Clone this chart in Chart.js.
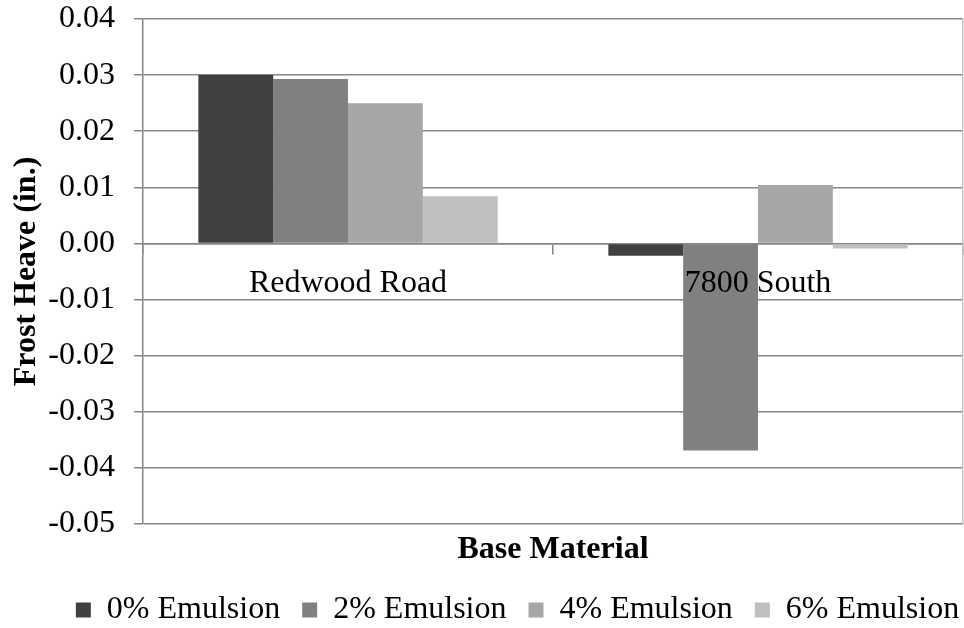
<!DOCTYPE html>
<html>
<head>
<meta charset="utf-8">
<script src="https://cdn.jsdelivr.net/npm/chart.js@4"></script>
<style>
  body { margin: 0; background: #fff; }
</style>
</head>
<body>
<canvas id="frostChart" width="964" height="628"></canvas>
<script>
// dados
const categories = ['Redwood Road', '7800 South'];
const seriesNames = ['0% Emulsion', '2% Emulsion', '4% Emulsion', '6% Emulsion'];
const emulsion0 = [0.0300, -0.0022];
const emulsion2 = [0.0293, -0.0369];
const emulsion4 = [0.0250, 0.0104];
const emulsion6 = [0.0084, -0.0009];
const yMin = -0.05;
const yMax = 0.04;
const yStep = 0.01;

const barColors = ['#404040', '#808080', '#a6a6a6', '#bfbfbf'];
const gridColor = '#868686';

Chart.defaults.font.family = "'Liberation Serif', 'Times New Roman', serif";
Chart.defaults.color = '#000';

const allSeries = [emulsion0, emulsion2, emulsion4, emulsion6];

const leftPad = 6;
const plotLeft = 143;
const legendShift = 33; // a legenda original fica um pouco à direita

// empurra a caixa da legenda para a direita antes de desenhar
const shiftLegend = {
  id: 'shiftLegend',
  afterLayout(chart) {
    chart.legend.left += legendShift;
    chart.legend.right += legendShift;
  }
};

const ctx = document.getElementById('frostChart').getContext('2d');
const frostChart = new Chart(ctx, {
  type: 'bar',
  data: {
    labels: categories,
    datasets: allSeries.map((vals, i) => ({
      label: seriesNames[i],
      data: vals,
      backgroundColor: barColors[i],
      borderWidth: 0,
      categoryPercentage: 0.73,
      barPercentage: 1.0,
      xAxisID: 'x',
      yAxisID: 'y'
    }))
  },
  options: {
    responsive: false,
    animation: false,
    layout: {
      padding: { left: leftPad, right: 1, top: 1, bottom: -8 }
    },
    plugins: {
      legend: {
        position: 'bottom',
        labels: {
          boxWidth: 15,
          boxHeight: 15,
          padding: 22,
          font: { size: 32 }
        }
      },
      tooltip: { enabled: false }
    },
    scales: {
      x: {
        type: 'category',
        position: { y: 0 }, // eixo x cruzando no zero
        grid: {
          display: true,
          drawOnChartArea: false,
          drawTicks: true,
          tickLength: 10,
          color: gridColor,
          lineWidth: 1.5
        },
        border: { display: true, color: gridColor, width: 1.5 },
        ticks: {
          z: 1, // rótulos por cima das barras
          font: { size: 32 },
          padding: 11,
          maxRotation: 0,
          autoSkip: false
        }
      },
      xTitle: {
        type: 'category',
        position: 'bottom',
        labels: categories,
        grid: { display: false, drawTicks: false },
        border: { display: false },
        ticks: { display: false },
        title: {
          display: true,
          text: 'Base Material',
          font: { size: 32, weight: 'bold' },
          padding: { top: 7, bottom: 2.6 }
        }
      },
      y: {
        min: yMin,
        max: yMax,
        afterFit: function(scale) {
          scale.width = plotLeft - leftPad;
          scale.paddingTop = 19;
          scale.paddingBottom = 19;
        },
        grid: {
          color: gridColor,
          lineWidth: 1.5,
          drawTicks: true,
          tickLength: 9
        },
        border: { display: true, color: gridColor, width: 1.5 },
        ticks: {
          stepSize: yStep,
          padding: 19,
          font: { size: 32 },
          callback: function(value) {
            const v = Math.round(value * 100) / 100;
            return (v === 0 ? 0 : v).toFixed(2);
          }
        },
        title: {
          display: true,
          text: 'Frost Heave (in.)',
          font: { size: 32, weight: 'bold' },
          padding: { top: 2, bottom: 2 }
        }
      },
      yRight: {
        position: 'right',
        grid: { drawOnChartArea: false, drawTicks: false },
        border: { display: true, color: '#c0c0c0', width: 1.5 },
        ticks: { display: false }
      }
    }
  },
  plugins: [shiftLegend]
});
</script>
</body>
</html>
